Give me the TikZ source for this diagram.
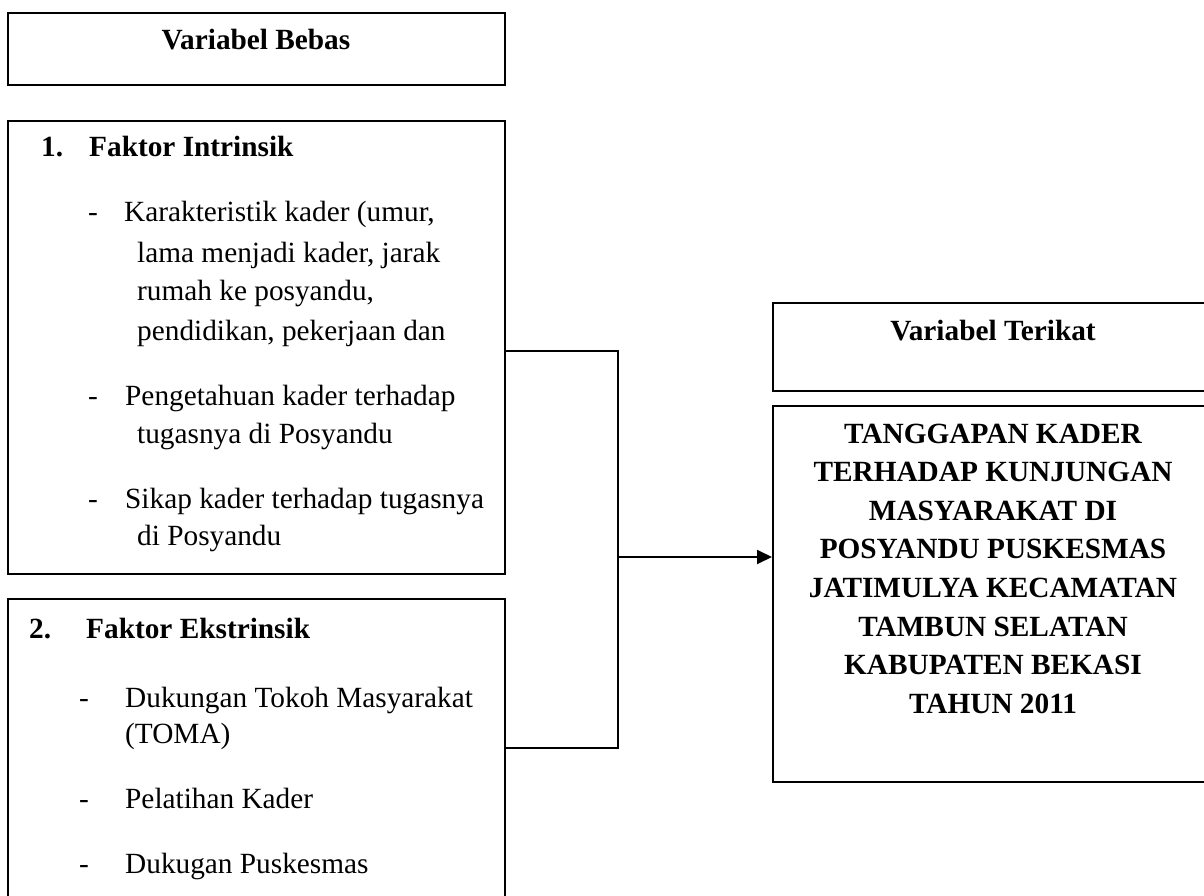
\documentclass[tikz,border=0pt]{standalone}
\usepackage{fontspec}
\setmainfont{Liberation Serif}
\usetikzlibrary{arrows.meta}
\begin{document}
\begin{tikzpicture}[x=1pt,y=-1pt]
      \tikzstyle{every node}+=[inner sep=0pt]
      \tikzstyle{box}=[draw=black, line width=1.8pt, anchor=north west]
      \tikzstyle{txt}=[anchor=base west, font=\fontsize{29.3}{39}\selectfont]
      \tikzstyle{headtxt}=[txt, font=\fontsize{29.3}{39}\selectfont\bfseries]
      \tikzstyle{titletxt}=[headtxt, anchor=base]
      \tikzstyle{link}=[draw=black, line width=1.8pt]
      \useasboundingbox (0,0) rectangle (1204,896);
      \clip (0,0) rectangle (1204,896);
      \node [box, minimum width=497pt, minimum height=72pt] (bebas) at (7,12) {};
      \node [titletxt] (bebastitle) at (256,50) {Variabel Bebas};
      \node [box, minimum width=497pt, minimum height=453pt] (intrinsik) at (7,120) {};
      \node [headtxt] (num1) at (41,157) {1.};
      \node [headtxt] (intrinsiktitle) at (89,157) {Faktor Intrinsik};
      \node [txt] (dash1) at (88,222) {-};
      \node [txt] (kar1) at (124,222) {Karakteristik kader (umur,};
      \node [txt] (kar2) at (137,262) {lama menjadi kader, jarak};
      \node [txt] (kar3) at (137,300) {rumah ke posyandu,};
      \node [txt] (kar4) at (137,340) {pendidikan, pekerjaan dan};
      \node [txt] (dash2) at (88,405) {-};
      \node [txt] (peng1) at (125,405) {Pengetahuan kader terhadap};
      \node [txt] (peng2) at (137,443) {tugasnya di Posyandu};
      \node [txt] (dash3) at (88,508) {-};
      \node [txt] (sikap1) at (125,508) {Sikap kader terhadap tugasnya};
      \node [txt] (sikap2) at (137,545) {di Posyandu};
      \node [box, minimum width=497pt, minimum height=342pt] (ekstrinsik) at (7,598) {};
      \node [headtxt] (num2) at (29,638) {2.};
      \node [headtxt] (ekstrinsiktitle) at (86,638) {Faktor Ekstrinsik};
      \node [txt] (dash4) at (79,707) {-};
      \node [txt] (toma1) at (125,707) {Dukungan Tokoh Masyarakat};
      \node [txt] (toma2) at (125,743) {(TOMA)};
      \node [txt] (dash5) at (79,808) {-};
      \node [txt] (latih) at (125,808) {Pelatihan Kader};
      \node [txt] (dash6) at (79,873) {-};
      \node [txt] (pkm) at (125,873) {Dukugan Puskesmas};
      \node [box, minimum width=442pt, minimum height=88pt] (terikat) at (772,302) {};
      \node [titletxt] (terikattitle) at (993,340) {Variabel Terikat};
      \node [box, minimum width=442pt, minimum height=376pt] (tanggapan) at (772,405) {};
      \node [titletxt] (tg1) at (993,443) {TANGGAPAN KADER};
      \node [titletxt] (tg2) at (993,481.6) {TERHADAP KUNJUNGAN};
      \node [titletxt] (tg3) at (993,520.2) {MASYARAKAT DI};
      \node [titletxt] (tg4) at (993,558.8) {POSYANDU PUSKESMAS};
      \node [titletxt] (tg5) at (993,597.4) {JATIMULYA KECAMATAN};
      \node [titletxt] (tg6) at (993,636) {TAMBUN SELATAN};
      \node [titletxt] (tg7) at (993,674.6) {KABUPATEN BEKASI};
      \node [titletxt] (tg8) at (993,713.2) {TAHUN 2011};
      \coordinate (jtop) at (618,351);
      \coordinate (jbot) at (618,748);
      \coordinate (jmid) at (618,557);
      \draw [link] (jtop -| intrinsik.east) -- (jtop) -- (jbot) -- (jbot -| ekstrinsik.east);
      \draw [link, -{Triangle[length=15pt,width=14pt]}] (jmid) -- (jmid -| tanggapan.west);
\end{tikzpicture}
\end{document}
